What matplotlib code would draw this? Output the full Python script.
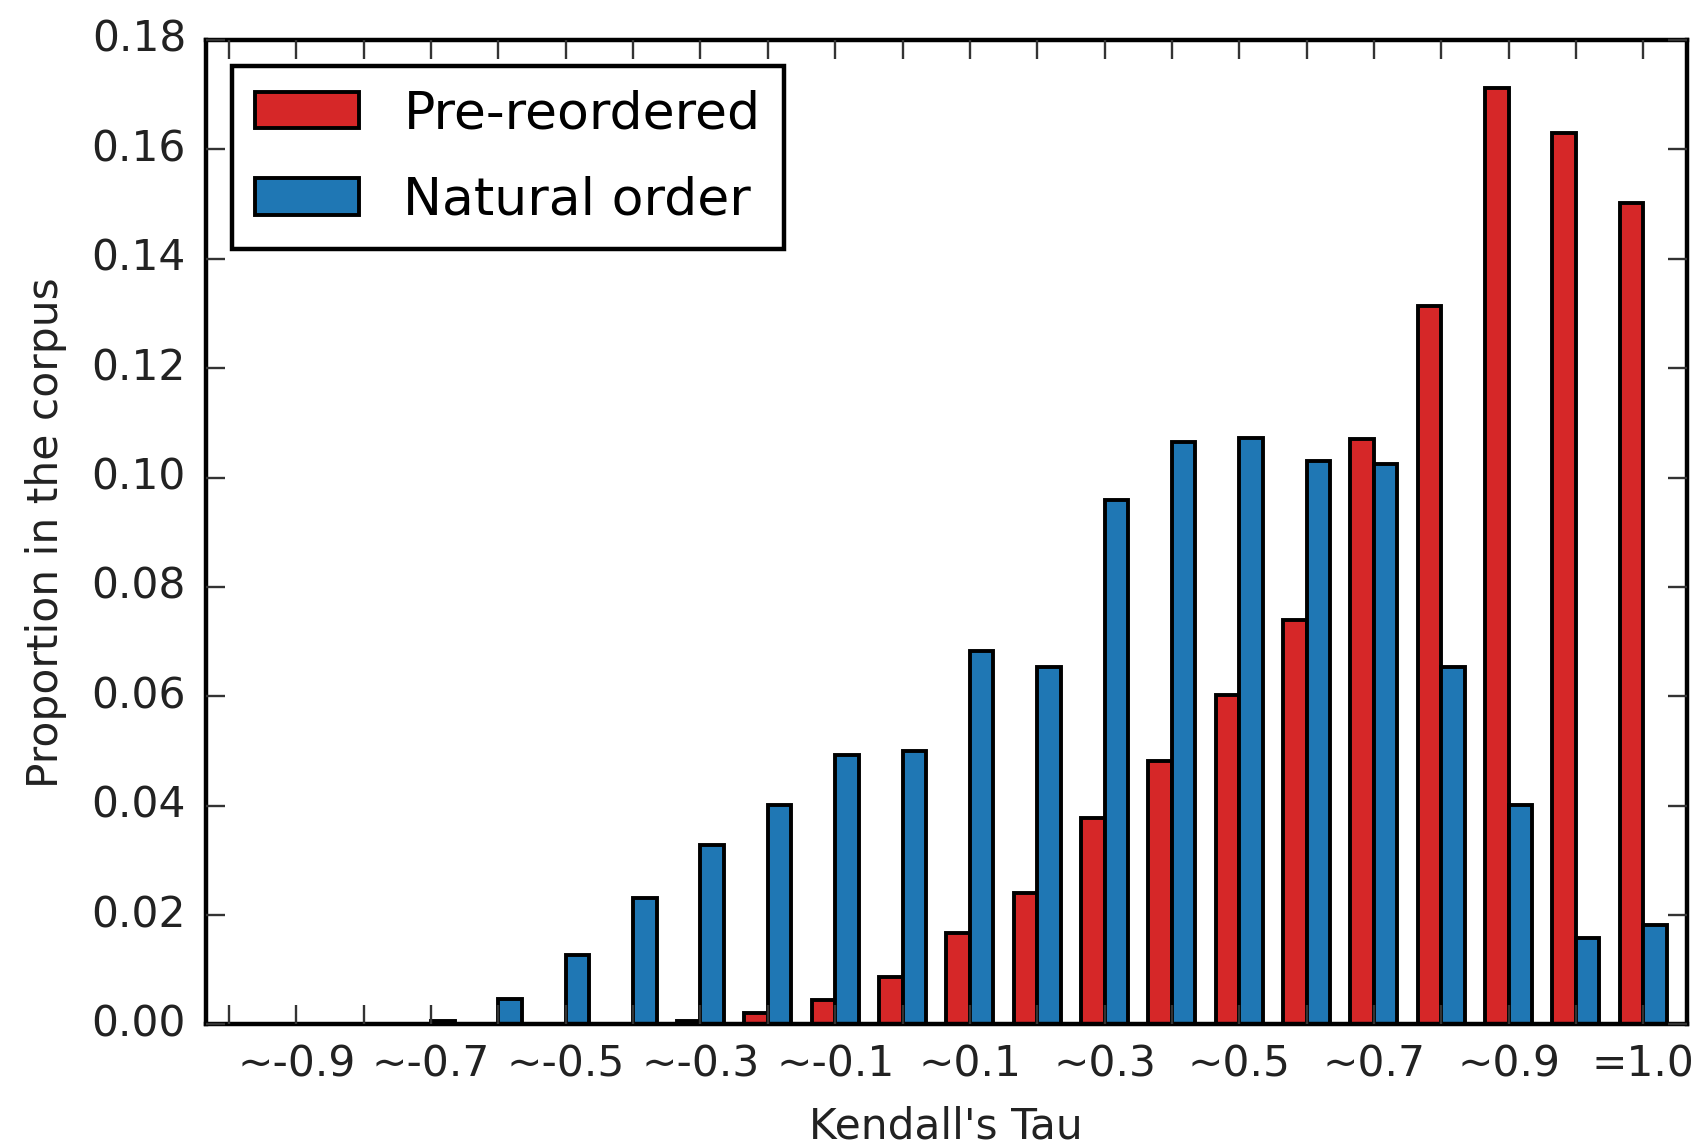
import numpy as np
import matplotlib
matplotlib.use('Agg')
import matplotlib.pyplot as plt

# Kendall's tau bins, labelled every other bin
tau_labels = ['', '~-0.9', '', '~-0.7', '', '~-0.5', '', '~-0.3', '', '~-0.1', '',
              '~0.1', '', '~0.3', '', '~0.5', '', '~0.7', '', '~0.9', '', '=1.0']

pre_reordered = [0.0, 0.0, 0.0, 0.0, 0.0, 0.0, 0.0, 0.0006, 0.0021, 0.0045, 0.0086,
                 0.0167, 0.0240, 0.0377, 0.0482, 0.0603, 0.0740, 0.1071, 0.1314,
                 0.1712, 0.1630, 0.1501]
natural_order = [0.0, 0.0, 0.0, 0.0006, 0.0046, 0.0127, 0.0232, 0.0328, 0.0401, 0.0492,
                 0.0500, 0.0683, 0.0653, 0.0959, 0.1065, 0.1072, 0.1031, 0.1025,
                 0.0653, 0.0401, 0.0158, 0.0181]

plt.style.use('classic')
plt.rcParams['font.family'] = ['DejaVu Sans']

width = 0.35
ind = np.arange(len(tau_labels))

fig = plt.figure(figsize=(16.96, 11.48), dpi=100, facecolor='white')
ax = fig.add_axes([0.1212, 0.1076, 0.8735, 0.8576])

ax.bar(ind - width, pre_reordered, width, align='edge', color='#d62728',
       edgecolor='black', linewidth=2.8, label='Pre-reordered')
ax.bar(ind, natural_order, width, align='edge', color='#1f77b4',
       edgecolor='black', linewidth=2.8, label='Natural order')

ax.set_xlim(-width, len(ind) - width)
ax.set_ylim(0, 0.18)
ax.set_xticks(ind)
ax.set_xticklabels(tau_labels)
ax.set_yticks(np.arange(0, 0.19, 0.02))
ax.yaxis.set_major_formatter(matplotlib.ticker.FormatStrFormatter('%.2f'))

ax.tick_params(direction='in', length=13.7, width=1.7, labelsize=30.5, pad=14,
               top=True, right=True, color='#333333', labelcolor='#222222')
for s in ax.spines.values():
    s.set_linewidth(3.2)

ax.set_xlabel("Kendall's Tau", fontsize=30.5, labelpad=14, color='#222222')
ax.set_ylabel('Proportion in the corpus', fontsize=30.5, labelpad=18, color='#222222')

leg = ax.legend(loc='upper left', fontsize=37.5, fancybox=False, handlelength=2,
                handleheight=0.7, handletextpad=0.85, borderpad=0.45, labelspacing=0.7,
                borderaxespad=0.5)
leg.get_frame().set_linewidth(3.2)
leg.get_frame().set_edgecolor('black')

fig.savefig('out.png', dpi=100, facecolor='white')
